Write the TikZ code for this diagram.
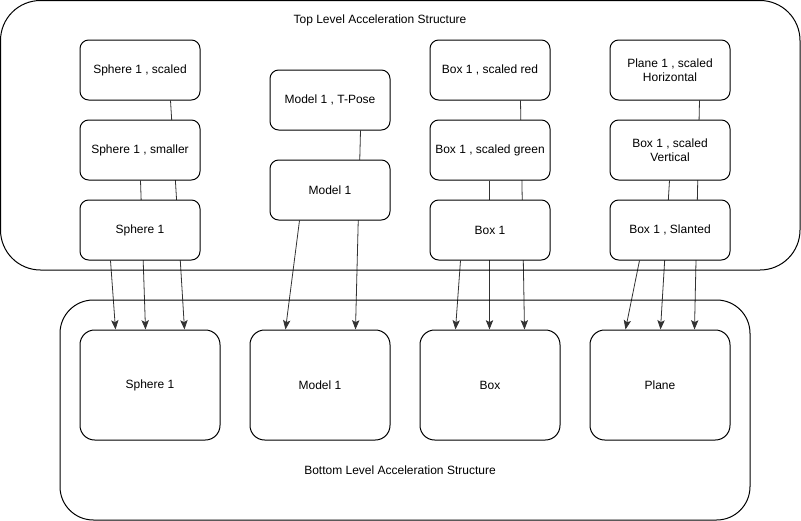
\documentclass[tikz,border=0pt]{standalone}
\usepackage{fontspec}
\setmainfont{Liberation Sans}
\usepackage{tikz}
\usetikzlibrary{calc,arrows.meta,backgrounds}
\tikzstyle{node_inst} = [rectangle, draw, fill=white, line width=0.75pt, rounded corners=6.5pt, minimum width=90pt, minimum height=45pt, inner sep=0pt, align=center, font=\fontsize{9pt}{10.5pt}\selectfont]
\tikzstyle{node_blas} = [node_inst, rounded corners=11pt, minimum width=105pt, minimum height=82.5pt]
\tikzstyle{edge_ref} = [draw=black!80, line width=0.6pt, -{Stealth[length=7pt,width=5.5pt,inset=1.5pt]}]

\begin{document}
\begin{tikzpicture}[x=0.75pt,y=-0.75pt]
\useasboundingbox (0,0) rectangle (801,521);
\draw[line width=0.75pt, rounded corners=30pt] (0.5,0.5) rectangle (800,270);
\draw[line width=0.75pt, rounded corners=25pt] (60,300) rectangle (750,520);
\node (TL) at (380,20) [font=\fontsize{9pt}{10.5pt}\selectfont] {Top Level Acceleration Structure};
\node (BL) at (400,470) [font=\fontsize{9pt}{10.5pt}\selectfont] {Bottom Level Acceleration Structure};

% top level instances
\node (S3) at (140,70) [node_inst] {Sphere 1 , scaled};
\node (S2) at (140,150) [node_inst] {Sphere 1 , smaller};
\node (S1) at (140,230) [node_inst] {Sphere 1};
\node (M2) at (330,100) [node_inst] {Model 1 , T-Pose};
\node (M1) at (330,190) [node_inst] {Model 1};
\node (X3) at (490,70) [node_inst] {Box 1 , scaled red};
\node (X2) at (490,150) [node_inst] {Box 1 , scaled green};
\node (X1) at (490,230) [node_inst] {Box 1};
\node (P3) at (670,70) [node_inst] {Plane 1 , scaled\\Horizontal};
\node (P2) at (670,150) [node_inst] {Box 1 , scaled\\Vertical};
\node (P1) at (670,230) [node_inst] {Box 1 , Slanted};

% bottom level geometry
\node (BS) at (150,385) [node_blas] {Sphere 1};
\node (BM) at (320,385) [node_blas] {Model 1};
\node (BX) at (490,385) [node_blas] {Box};
\node (BP) at (660,385) [node_blas] {Plane};

\begin{scope}[on background layer]
\draw[edge_ref] ($(S3.south west)+(91,0)$) -- ($(BS.north west)+(105,0)$);
\draw[edge_ref] ($(S2.south west)+(61,0)$) -- ($(BS.north west)+(66,0)$);
\draw[edge_ref] ($(S1.south west)+(31,0)$) -- ($(BS.north west)+(36,0)$);
\draw[edge_ref] ($(M2.south west)+(91,0)$) -- ($(BM.north west)+(106,0)$);
\draw[edge_ref] ($(M1.south west)+(30,0)$) -- ($(BM.north west)+(36,0)$);
\draw[edge_ref] ($(X3.south west)+(91,0)$) -- ($(BX.north west)+(105,0)$);
\draw[edge_ref] ($(X2.south west)+(60,0)$) -- ($(BX.north west)+(70,0)$);
\draw[edge_ref] ($(X1.south west)+(31,0)$) -- ($(BX.north west)+(36,0)$);
\draw[edge_ref] ($(P3.south west)+(90,0)$) -- ($(BP.north west)+(105,0)$);
\draw[edge_ref] ($(P2.south west)+(60,0)$) -- ($(BP.north west)+(71,0)$);
\draw[edge_ref] ($(P1.south west)+(30,0)$) -- ($(BP.north west)+(36,0)$);
\end{scope}
\end{tikzpicture}
\end{document}
